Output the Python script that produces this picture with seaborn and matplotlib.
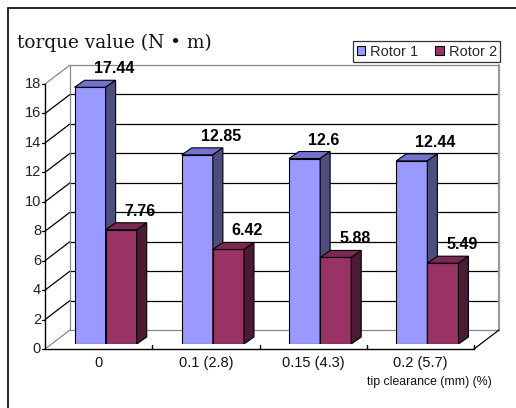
import matplotlib
matplotlib.use("Agg")
import matplotlib.pyplot as plt
from matplotlib.patches import Polygon, Patch
from matplotlib.transforms import Affine2D, IdentityTransform
from matplotlib.lines import Line2D
import seaborn as sns
import pandas as pd

# ---- data -------------------------------------------------------------
clearances = ["0", "0.1 (2.8)", "0.15 (4.3)", "0.2 (5.7)"]
rotor1 = [17.44, 12.85, 12.6, 12.44]
rotor2 = [7.76, 6.42, 5.88, 5.49]
series = ["Rotor 1", "Rotor 2"]
yticks = [0, 2, 4, 6, 8, 10, 12, 14, 16, 18]

df = pd.DataFrame({
    "clearance": clearances * 2,
    "rotor": [series[0]] * 4 + [series[1]] * 4,
    "torque": rotor1 + rotor2,
})

front_cols = {"Rotor 1": "#9999FF", "Rotor 2": "#993366"}
top_cols = {"Rotor 1": "#7272CF", "Rotor 2": "#7A2952"}
side_cols = {"Rotor 1": "#4D4D80", "Rotor 2": "#4C1A33"}

# ---- figure & pixel helper ------------------------------------------
W, H = 516, 408
sns.set_theme(style="white")
plt.rcParams["font.family"] = ["Liberation Sans", "DejaVu Sans"]
fig = plt.figure(figsize=(W / 100, H / 100), dpi=100)
fig.patch.set_facecolor("white")
PX = Affine2D().scale(1, -1).translate(0, H)   # image pixels -> display

# 3-D box geometry (pixels)
FX0, FX1, FY0 = 45, 474, 349       # front floor edge
DEPTH = (25, -19)                  # front plane -> back wall
UNIT = 14.72                       # pixels per N·m
BAR_SHIFT = (7, -5)                # front plane -> bar plane
BAR_DEPTH = (10, 7)                # bar extrusion (display px)


def fy(v):
    return FY0 - UNIT * v


# axes laid over the bar plane
bx0, bx1 = FX0 + BAR_SHIFT[0], FX1 + BAR_SHIFT[0]
by0 = FY0 + BAR_SHIFT[1]
by1 = by0 - UNIT * 18
ax = fig.add_axes([bx0 / W, (H - by0) / H, (bx1 - bx0) / W, (by0 - by1) / H])
ax.set_facecolor("none")

sns.barplot(data=df, x="clearance", y="torque", hue="rotor", order=clearances,
            hue_order=series, palette=front_cols, width=0.58, gap=0,
            saturation=1, edgecolor="black", linewidth=0.8, ax=ax, legend=False)
ax.set_xlim(-0.5, 3.5)
ax.set_ylim(0, 18)
ax.axis("off")


def pline(xs, ys, color="black", lw=0.9, z=0.5):
    ax.add_line(Line2D(xs, ys, color=color, lw=lw, transform=PX,
                       clip_on=False, zorder=z))


# back wall, floor and left wall
dx, dy = DEPTH
BX0, BX1 = FX0 + dx, FX1 + dx
for v in yticks:
    col = "#888888" if v in (0, 18) else "black"
    pline([BX0, BX1], [fy(v) + dy, fy(v) + dy], col)
    pline([FX0, BX0], [fy(v), fy(v) + dy], col)
    pline([FX0 - 3, FX0], [fy(v), fy(v)], "black")
pline([BX0, BX0], [fy(0) + dy, fy(18) + dy], "#888888")
pline([BX1, BX1], [fy(0) + dy, fy(18) + dy], "#999999", lw=1.6)
pline([FX0, FX0], [fy(0), fy(18)], "black", lw=1.0, z=4)
pline([FX0, FX1], [FY0, FY0], "black", lw=1.0, z=4)
pline([FX1, BX1], [FY0, FY0 + dy], "black", lw=0.9, z=4)
slot = (FX1 - FX0) / len(clearances)
for i in range(1, len(clearances) + 1):
    xx = FX0 + slot * i
    pline([xx, xx], [FY0, FY0 - 4], "black", lw=1.0, z=4)

# y tick labels and category labels
for v in yticks:
    ax.text(41, fy(v), str(v), transform=PX, ha="right", va="center",
            fontsize=10.5, color="#222222")
for i, lab in enumerate(clearances):
    ax.text(FX0 + slot * (i + 0.5), 363, lab, transform=PX, ha="center",
            va="center", fontsize=10.5, color="#111111")
ax.text(492, 382, "tip clearance (mm) (%)", transform=PX, ha="right",
        va="center", fontsize=8.8, color="#111111")
ax.text(17, 43, "torque value (N • m)", transform=PX, ha="left",
        va="center", fontsize=13.3, family=["DejaVu Serif"], color="#111111")

# extrude bars and label their values
fig.canvas.draw()
ddx, ddy = BAR_DEPTH
bars = ax.patches[:len(df)]
for k, bar in enumerate(bars):
    name = series[k // len(clearances)]
    val = df["torque"].iloc[k]
    z = 2 + (k // len(clearances))
    bar.set_zorder(z)
    (x0, y0), (x1, y1) = ax.transData.transform(
        [(bar.get_x(), bar.get_y()), (bar.get_x() + bar.get_width(),
                                       bar.get_y() + bar.get_height())])
    top = Polygon([(x0, y1), (x1, y1), (x1 + ddx, y1 + ddy), (x0 + ddx, y1 + ddy)],
                  closed=True, facecolor=top_cols[name], edgecolor="black",
                  lw=0.8, transform=IdentityTransform(), zorder=z)
    side = Polygon([(x1, y0), (x1 + ddx, y0 + ddy), (x1 + ddx, y1 + ddy), (x1, y1)],
                   closed=True, facecolor=side_cols[name], edgecolor="black",
                   lw=0.8, transform=IdentityTransform(), zorder=z)
    ax.add_artist(top)
    ax.add_artist(side)
    ax.annotate(f"{val:g}", xy=(bar.get_x(), val), xytext=(19 * 0.72, 14 * 0.72),
                textcoords="offset points", ha="left", va="baseline",
                fontsize=11.5, fontweight="bold", color="black", zorder=6,
                annotation_clip=False)

# legend
handles = [Patch(facecolor=front_cols[s], edgecolor="black", lw=0.8, label=s)
           for s in series]
leg = fig.legend(handles=handles, loc="upper left", ncol=2,
                 bbox_to_anchor=(353 / W, 1 - 41 / H), borderaxespad=0,
                 fontsize=10.5, frameon=True, fancybox=False, edgecolor="black",
                 handlelength=0.6, handleheight=0.6, handletextpad=0.3,
                 columnspacing=1.2, borderpad=0.25)
leg.get_frame().set_linewidth(0.9)

# outer frame
fig.add_artist(Line2D([8 / W, 8 / W], [0, 1 - 8 / H], color="black", lw=1.2,
                      transform=fig.transFigure))
fig.add_artist(Line2D([8 / W, 1], [1 - 8 / H, 1 - 8 / H], color="black", lw=1.2,
                      transform=fig.transFigure))

fig.savefig("out.png", dpi=100)
